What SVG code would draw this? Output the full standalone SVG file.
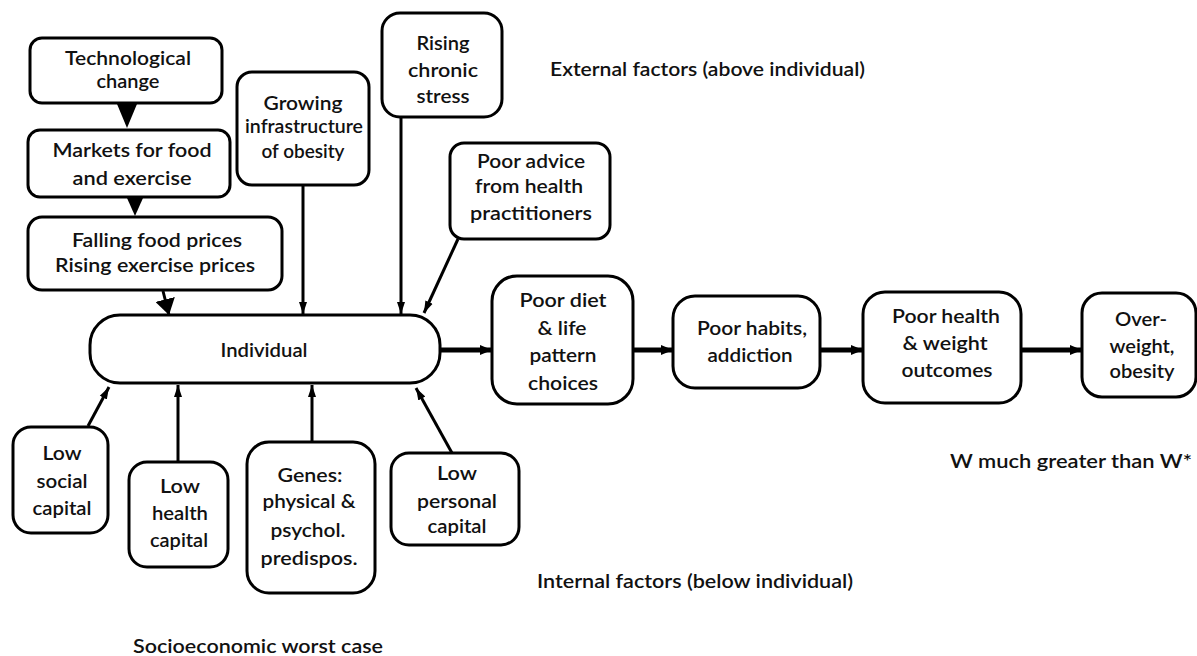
<svg xmlns="http://www.w3.org/2000/svg" width="1197" height="656" viewBox="0 0 1197 656">
<defs>
<style>
.box{fill:#fff;stroke:#000;stroke-width:3}
.t{font-family:Lato,"Liberation Sans",sans-serif;font-size:19px;font-weight:600;fill:#111;text-anchor:middle}
.lab{font-family:Lato,"Liberation Sans",sans-serif;font-size:19px;font-weight:600;fill:#111}
.c{stroke:#000;stroke-width:3;fill:none}
.ch{stroke:#000;stroke-width:5;fill:none}
</style>
<marker id="sm" markerUnits="userSpaceOnUse" markerWidth="12" markerHeight="10" viewBox="0 0 12 10" refX="12" refY="5" orient="auto"><path d="M0,1 L12,5 L0,9 z" fill="#000"/></marker>
<marker id="chm" markerUnits="userSpaceOnUse" markerWidth="12" markerHeight="12" viewBox="0 0 12 12" refX="12" refY="6" orient="auto"><path d="M0,1 L12,6 L0,11 z" fill="#000"/></marker>
<marker id="big" markerUnits="userSpaceOnUse" markerWidth="16" markerHeight="20" viewBox="0 0 16 20" refX="16" refY="10" orient="auto"><path d="M0,0 L16,10 L0,20 z" fill="#000"/></marker>
</defs>
<rect width="1197" height="656" fill="#fff"/>
<g id="connectors">
<polygon points="117,104 137,104 127,128" fill="#000"/>
<polygon points="127,198 143,198 135,216" fill="#000"/>
<line class="c" x1="163" y1="291" x2="169" y2="315" marker-end="url(#big)"/>
<line class="c" x1="303" y1="185" x2="303" y2="314" marker-end="url(#sm)"/>
<line class="c" x1="401" y1="117" x2="401" y2="314" marker-end="url(#sm)"/>
<line class="c" x1="458" y1="239" x2="424" y2="313" marker-end="url(#sm)"/>
<line class="c" x1="88" y1="426" x2="109" y2="387" marker-end="url(#sm)"/>
<line class="c" x1="178" y1="462" x2="178" y2="385" marker-end="url(#sm)"/>
<line class="c" x1="312" y1="442" x2="312" y2="385" marker-end="url(#sm)"/>
<line class="c" x1="452" y1="453" x2="416" y2="388" marker-end="url(#sm)"/>
<line class="ch" x1="440" y1="350" x2="492" y2="350" marker-end="url(#chm)"/>
<line class="ch" x1="633" y1="350" x2="673" y2="350" marker-end="url(#chm)"/>
<line class="ch" x1="820" y1="350" x2="863" y2="350" marker-end="url(#chm)"/>
<line class="ch" x1="1021" y1="350" x2="1082" y2="350" marker-end="url(#chm)"/>
</g>
<g id="tech"><rect class="box" x="30" y="38" width="192" height="65" rx="12"/>
<text class="t" x="128" y="65" textLength="126" lengthAdjust="spacingAndGlyphs">Technological</text>
<text class="t" x="128" y="88" textLength="63" lengthAdjust="spacingAndGlyphs">change</text></g>
<g id="markets"><rect class="box" x="28" y="130" width="202" height="67" rx="12"/>
<text class="t" x="132" y="157" textLength="159" lengthAdjust="spacingAndGlyphs">Markets for food</text>
<text class="t" x="132" y="185" textLength="119" lengthAdjust="spacingAndGlyphs">and exercise</text></g>
<g id="falling"><rect class="box" x="28" y="217" width="254" height="73" rx="14"/>
<text class="t" x="157" y="247" textLength="170" lengthAdjust="spacingAndGlyphs">Falling food prices</text>
<text class="t" x="155" y="272" textLength="200" lengthAdjust="spacingAndGlyphs">Rising exercise prices</text></g>
<g id="growing"><rect class="box" x="237" y="72" width="132" height="113" rx="15"/>
<text class="t" x="303" y="110" textLength="79" lengthAdjust="spacingAndGlyphs">Growing</text>
<text class="t" x="304" y="133" textLength="118" lengthAdjust="spacingAndGlyphs">infrastructure</text>
<text class="t" x="303" y="158" textLength="83" lengthAdjust="spacingAndGlyphs">of obesity</text></g>
<g id="rising"><rect class="box" x="382" y="13" width="120" height="104" rx="18"/>
<text class="t" x="443" y="50" textLength="53" lengthAdjust="spacingAndGlyphs">Rising</text>
<text class="t" x="443" y="77" textLength="70" lengthAdjust="spacingAndGlyphs">chronic</text>
<text class="t" x="443" y="103" textLength="53" lengthAdjust="spacingAndGlyphs">stress</text></g>
<g id="advice"><rect class="box" x="450" y="143" width="160" height="96" rx="14"/>
<text class="t" x="531" y="168" textLength="108" lengthAdjust="spacingAndGlyphs">Poor advice</text>
<text class="t" x="529" y="193" textLength="108" lengthAdjust="spacingAndGlyphs">from health</text>
<text class="t" x="531" y="220" textLength="122" lengthAdjust="spacingAndGlyphs">practitioners</text></g>
<g id="individual"><rect class="box" x="90" y="315" width="350" height="68" rx="30"/>
<text class="t" x="264" y="357" textLength="87" lengthAdjust="spacingAndGlyphs">Individual</text></g>
<g id="diet"><rect class="box" x="492" y="276" width="141" height="128" rx="25"/>
<text class="t" x="563" y="307" textLength="87" lengthAdjust="spacingAndGlyphs">Poor diet</text>
<text class="t" x="562" y="335" textLength="49" lengthAdjust="spacingAndGlyphs">&amp; life</text>
<text class="t" x="563" y="362" textLength="67" lengthAdjust="spacingAndGlyphs">pattern</text>
<text class="t" x="563" y="390" textLength="70" lengthAdjust="spacingAndGlyphs">choices</text></g>
<g id="habits"><rect class="box" x="673" y="296" width="147" height="92" rx="22"/>
<text class="t" x="752" y="335" textLength="110" lengthAdjust="spacingAndGlyphs">Poor habits,</text>
<text class="t" x="750" y="362" textLength="85" lengthAdjust="spacingAndGlyphs">addiction</text></g>
<g id="health"><rect class="box" x="863" y="292" width="158" height="111" rx="22"/>
<text class="t" x="946" y="323" textLength="108" lengthAdjust="spacingAndGlyphs">Poor health</text>
<text class="t" x="945" y="350" textLength="85" lengthAdjust="spacingAndGlyphs">&amp; weight</text>
<text class="t" x="947" y="377" textLength="91" lengthAdjust="spacingAndGlyphs">outcomes</text></g>
<g id="overweight"><rect class="box" x="1082" y="293" width="114" height="104" rx="20"/>
<text class="t" x="1141" y="326" textLength="52" lengthAdjust="spacingAndGlyphs">Over-</text>
<text class="t" x="1142" y="353" textLength="65" lengthAdjust="spacingAndGlyphs">weight,</text>
<text class="t" x="1142" y="378" textLength="65" lengthAdjust="spacingAndGlyphs">obesity</text></g>
<g id="lowsocial"><rect class="box" x="13" y="427" width="95" height="106" rx="18"/>
<text class="t" x="62" y="460" textLength="39" lengthAdjust="spacingAndGlyphs">Low</text>
<text class="t" x="62" y="488" textLength="51" lengthAdjust="spacingAndGlyphs">social</text>
<text class="t" x="62" y="515" textLength="59" lengthAdjust="spacingAndGlyphs">capital</text></g>
<g id="lowhealth"><rect class="box" x="129" y="462" width="99" height="105" rx="18"/>
<text class="t" x="180" y="493" textLength="40" lengthAdjust="spacingAndGlyphs">Low</text>
<text class="t" x="180" y="520" textLength="56" lengthAdjust="spacingAndGlyphs">health</text>
<text class="t" x="179" y="547" textLength="58" lengthAdjust="spacingAndGlyphs">capital</text></g>
<g id="genes"><rect class="box" x="247" y="442" width="128" height="151" rx="22"/>
<text class="t" x="310" y="482" textLength="65" lengthAdjust="spacingAndGlyphs">Genes:</text>
<text class="t" x="309" y="508" textLength="93" lengthAdjust="spacingAndGlyphs">physical &amp;</text>
<text class="t" x="308" y="537" textLength="75" lengthAdjust="spacingAndGlyphs">psychol.</text>
<text class="t" x="309" y="565" textLength="97" lengthAdjust="spacingAndGlyphs">predispos.</text></g>
<g id="lowpersonal"><rect class="box" x="391" y="453" width="128" height="92" rx="18"/>
<text class="t" x="457" y="480" textLength="40" lengthAdjust="spacingAndGlyphs">Low</text>
<text class="t" x="457" y="508" textLength="80" lengthAdjust="spacingAndGlyphs">personal</text>
<text class="t" x="457" y="533" textLength="59" lengthAdjust="spacingAndGlyphs">capital</text></g>
<g id="labels">
<text class="lab" x="550" y="76" textLength="315" lengthAdjust="spacingAndGlyphs">External factors (above individual)</text>
<text class="lab" x="537" y="588" textLength="316" lengthAdjust="spacingAndGlyphs">Internal factors (below individual)</text>
<text class="lab" x="950" y="468" textLength="242" lengthAdjust="spacingAndGlyphs">W much greater than W*</text>
<text class="lab" x="133" y="653" textLength="250" lengthAdjust="spacingAndGlyphs">Socioeconomic worst case</text>
</g>
</svg>
